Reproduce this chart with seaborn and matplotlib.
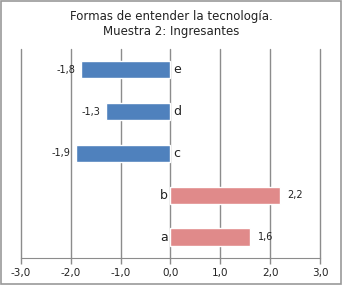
import numpy as np
import pandas as pd
import matplotlib
matplotlib.use("Agg")
import matplotlib.pyplot as plt
import seaborn as sns
from matplotlib.patches import Rectangle

categorias = ['e', 'd', 'c', 'b', 'a']
valores = [-1.8, -1.3, -1.9, 2.2, 1.6]
colores = ['#4F81BD', '#4F81BD', '#4F81BD', '#E08A8A', '#E08A8A']
ticks_x = [-3, -2, -1, 0, 1, 2, 3]

df = pd.DataFrame({'cat': categorias, 'val': valores})

sns.set_style('white')
plt.rcParams['font.family'] = ['DejaVu Sans']

fig = plt.figure(figsize=(3.43, 2.85), dpi=100)
ax = fig.add_axes([0.061, 0.095, 0.872, 0.733])

sns.barplot(data=df, x='val', y='cat', hue='cat', palette=dict(zip(categorias, colores)),
            orient='h', width=0.41, saturation=1, legend=False, ax=ax)

ax.set_xlim(-3, 3)
ax.set_ylim(4.5, -0.5)
ax.set_xticks(ticks_x)
ax.set_xticklabels([f"{t:.1f}".replace('.', ',') for t in ticks_x], fontsize=7.5, color='#222222')
ax.set_yticks([])
ax.set_xlabel('')
ax.set_ylabel('')
for x in ticks_x:
    ax.axvline(x, color='#8c8c8c', lw=1, zorder=0, clip_on=False)
for s in ['top', 'left', 'right']:
    ax.spines[s].set_visible(False)
ax.spines['bottom'].set_color('#8c8c8c')
ax.tick_params(axis='x', length=4, width=1, color='#8c8c8c', pad=3, direction='out', bottom=True)

for i, (c, v) in enumerate(zip(categorias, valores)):
    lab = f"{v:.1f}".replace('.', ',')
    if v < 0:
        ax.text(v - 0.1, i, lab, ha='right', va='center', fontsize=7, color='#222222')
        ax.text(0.05, i, c, ha='left', va='center', fontsize=9, color='#222222')
    else:
        ax.text(v + 0.15, i, lab, ha='left', va='center', fontsize=7, color='#222222')
        ax.text(-0.05, i, c, ha='right', va='center', fontsize=9, color='#222222')

fig.suptitle('Formas de entender la tecnología.\nMuestra 2: Ingresantes', y=0.965, fontsize=8.5,
             color='#222222', linespacing=1.2)

fig.patches.append(Rectangle((0.004, 0.005), 0.99, 0.99, transform=fig.transFigure,
                             fill=False, edgecolor='#999999', lw=1.2))

fig.savefig('out.png', dpi=100)
